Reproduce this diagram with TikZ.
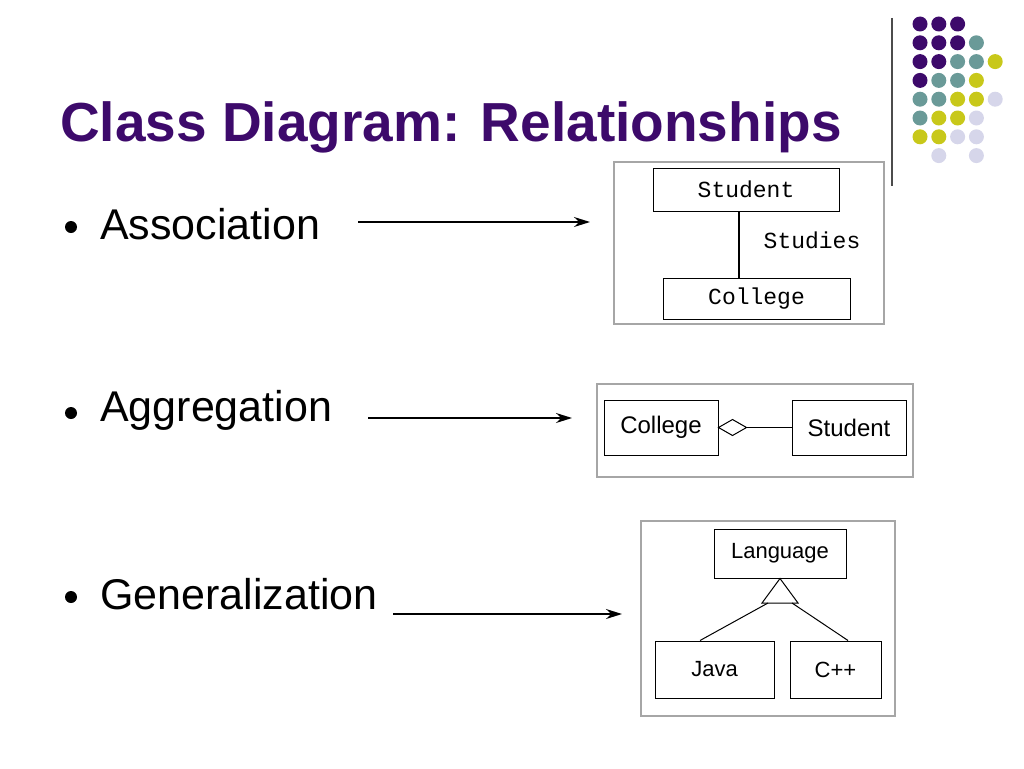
\documentclass[tikz,border=0pt]{standalone}
\usepackage{fontspec}
\usetikzlibrary{arrows.meta}
\setmainfont{Liberation Sans}
\newfontfamily\boxfont{Liberation Mono}
\begin{document}
\begin{tikzpicture}[x=1pt,y=-1pt,
  dot/.style={circle,fill=#1,inner sep=0,minimum size=15pt},
  frame/.style={draw=gray!70,line width=1.2pt,fill=white},
  cls/.style={draw,line width=1pt,inner sep=0,font=\fontsize{20}{20}\selectfont},
  mono/.style={font=\boxfont\fontsize{23}{23}\selectfont},
  arr/.style={line width=1.5pt,-{Stealth[length=16pt,width=10pt]}},
  item/.style={anchor=west,font=\fontsize{43}{43}\selectfont,inner sep=0}]
\useasboundingbox (0,0) rectangle (1024,768);
\definecolor{pu}{HTML}{3D0A6B}\definecolor{te}{HTML}{6A9A98}
\definecolor{ye}{HTML}{C8C81A}\definecolor{la}{HTML}{D6D6EA}
% dots
\foreach \r/\row in {0/{pu,pu,pu,,},1/{pu,pu,pu,te,},2/{pu,pu,te,te,ye},3/{pu,te,te,ye,},4/{te,te,ye,ye,la},5/{te,ye,ye,la,},6/{ye,ye,la,la,},7/{,la,,la,}}{
  \foreach \c [count=\i from 0] in \row {
    \ifx\c\empty\else
      \node[dot=\c] (d\r\i) at (920+18.8*\i,24+18.8*\r) {};
    \fi
  }
}
\draw[line width=1.2pt,black!70] (892,18) -- (892,186);
\node[anchor=west,inner sep=0,text=pu,font=\fontsize{55}{55}\selectfont\bfseries] (title) at (60,127) {Class Diagram: Relationships};
% bullets
\foreach \y/\t/\n in {224/Association/a,410/Aggregation/b,594/Generalization/c}{
  \node[circle,fill=black,inner sep=0,minimum size=12pt] (b\n) at (71,\y+3) {};
  \node[item] (t\n) at (100,\y) {\t};
}
% association
\draw[frame] (614,162) rectangle (884,324);
\node[cls,mono,minimum width=186pt,minimum height=43pt] (st) at (746,189.5) {Student};
\node[cls,mono,minimum width=187pt,minimum height=41pt] (co) at (756.5,298.5) {College};
\draw[line width=1.5pt] (739,211) -- (739,278);
\node[mono,inner sep=0] (studies) at (812,240) {Studies};
\draw[arr] (358,222) -- (590,222);
% aggregation
\draw[frame] (597,384) rectangle (913,477);
\node[cls,minimum width=114pt,minimum height=55pt,font=\fontsize{24}{24}\selectfont] (co2) at (661,427.5) {College};
\node[cls,minimum width=114pt,minimum height=55pt,font=\fontsize{24}{24}\selectfont] (st2) at (849,427.5) {Student};
\draw[line width=1pt] (co2.east) -- ++(14,-8) -- ++(14,8) coordinate (dm) -- ++(-14,8) -- cycle;
\draw[line width=1pt] (dm) -- (st2.west);
\draw[arr] (368,418) -- (572,418);
% generalization
\draw[frame] (641,521) rectangle (895,716);
\node[cls,minimum width=132pt,minimum height=49pt,font=\fontsize{22}{22}\selectfont] (lang) at (780,553.5) {Language};
\node[cls,minimum width=119pt,minimum height=57pt,font=\fontsize{22}{22}\selectfont] (java) at (714.5,669.5) {Java};
\node[cls,minimum width=91pt,minimum height=57pt,font=\fontsize{22}{22}\selectfont] (cpp) at (835.5,669.5) {C++};
\draw[line width=1pt] (lang.south) -- (798,603) -- (762,603) -- cycle;
\draw[line width=1pt] (768,603) -- (java.north -| 700,0);
\draw[line width=1pt] (792,603) -- (cpp.north -| 848,0);
\draw[arr] (393,614) -- (622,614);
\end{tikzpicture}
\end{document}
